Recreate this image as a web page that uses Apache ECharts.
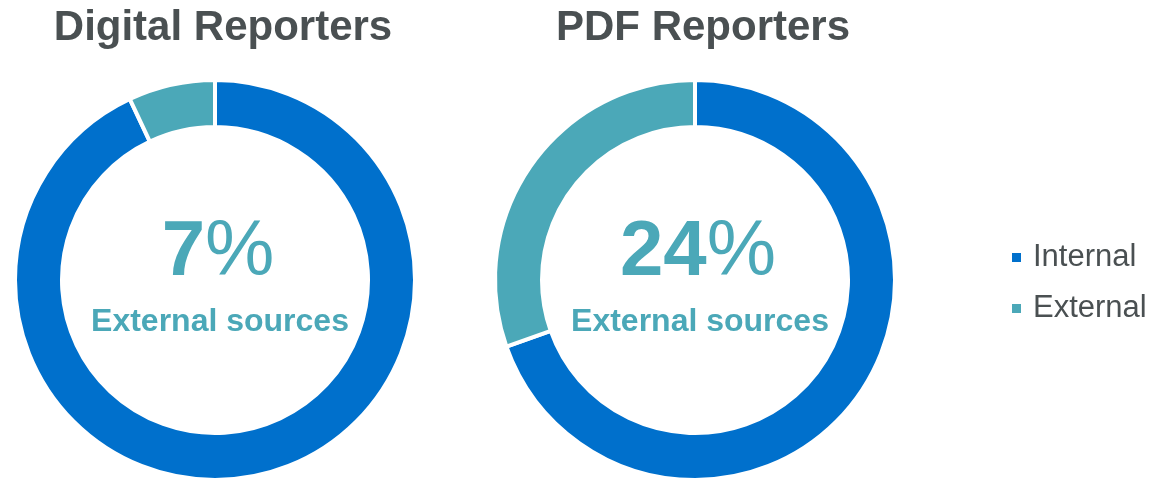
<!DOCTYPE html>
<html>
<head>
<meta charset="utf-8">
<script src="https://cdn.jsdelivr.net/npm/echarts@6/dist/echarts.min.js"></script>
<style>
  html, body { margin: 0; padding: 0; background: #fff; }
  #main { width: 1153px; height: 478px; }
</style>
</head>
<body>
<div id="main"></div>
<script>
var categories = ['Internal', 'External'];
var chartTitles = ['Digital Reporters', 'PDF Reporters'];
var digitalValues = [93, 7];
var pdfValues = [69.6, 30.4];
var centerLabels = ['7', '24'];
var subLabel = 'External sources';

var colors = ['#0070cc', '#4ba8b8'];
var centersX = [215, 695];
var centerY = 280;

var chart = echarts.init(document.getElementById('main'));

function toData(values) {
  var arr = [];
  for (var i = 0; i < categories.length; i++) {
    arr.push({ name: categories[i], value: values[i] });
  }
  return arr;
}

var allValues = [digitalValues, pdfValues];
var series = [];
var graphic = [];
for (var i = 0; i < 2; i++) {
  series.push({
    type: 'pie',
    center: [centersX[i], centerY],
    radius: [153, 200],
    startAngle: 90,
    clockwise: true,
    silent: true,
    label: { show: false },
    labelLine: { show: false },
    itemStyle: { borderColor: '#fff', borderWidth: 4 },
    data: toData(allValues[i])
  });
  // title above each donut
  graphic.push({
    type: 'text',
    x: centersX[i] + 8,
    y: 28,
    style: {
      text: chartTitles[i],
      textAlign: 'center',
      textVerticalAlign: 'middle',
      font: 'bold 42px "Liberation Sans", Arial, sans-serif',
      fill: '#4a5052'
    }
  });
  // big percentage in the middle
  graphic.push({
    type: 'text',
    x: centersX[i] + 3,
    y: 253,
    style: {
      text: '{a|' + centerLabels[i] + '}{b|%}',
      textAlign: 'center',
      textVerticalAlign: 'middle',
      rich: {
        a: { font: 'bold 78px "Liberation Sans", Arial, sans-serif', fill: '#4ba8b8' },
        b: { font: '78px "Liberation Sans", Arial, sans-serif', fill: '#4ba8b8' }
      }
    }
  });
  graphic.push({
    type: 'text',
    x: centersX[i] + 5,
    y: 322,
    style: {
      text: subLabel,
      textAlign: 'center',
      textVerticalAlign: 'middle',
      font: 'bold 32px "Liberation Sans", Arial, sans-serif',
      fill: '#4ba8b8'
    }
  });
}

var option = {
  animation: false,
  color: colors,
  legend: {
    data: categories,
    orient: 'vertical',
    left: 1005,
    top: 237,
    icon: 'rect',
    itemWidth: 11,
    itemHeight: 11,
    itemGap: 20,
    textStyle: {
      fontSize: 31,
      color: '#4a5052',
      padding: [0, 0, 0, 6],
      fontFamily: '"Liberation Sans", Arial, sans-serif'
    }
  },
  graphic: graphic,
  series: series
};
chart.setOption(option);
</script>
</body>
</html>
